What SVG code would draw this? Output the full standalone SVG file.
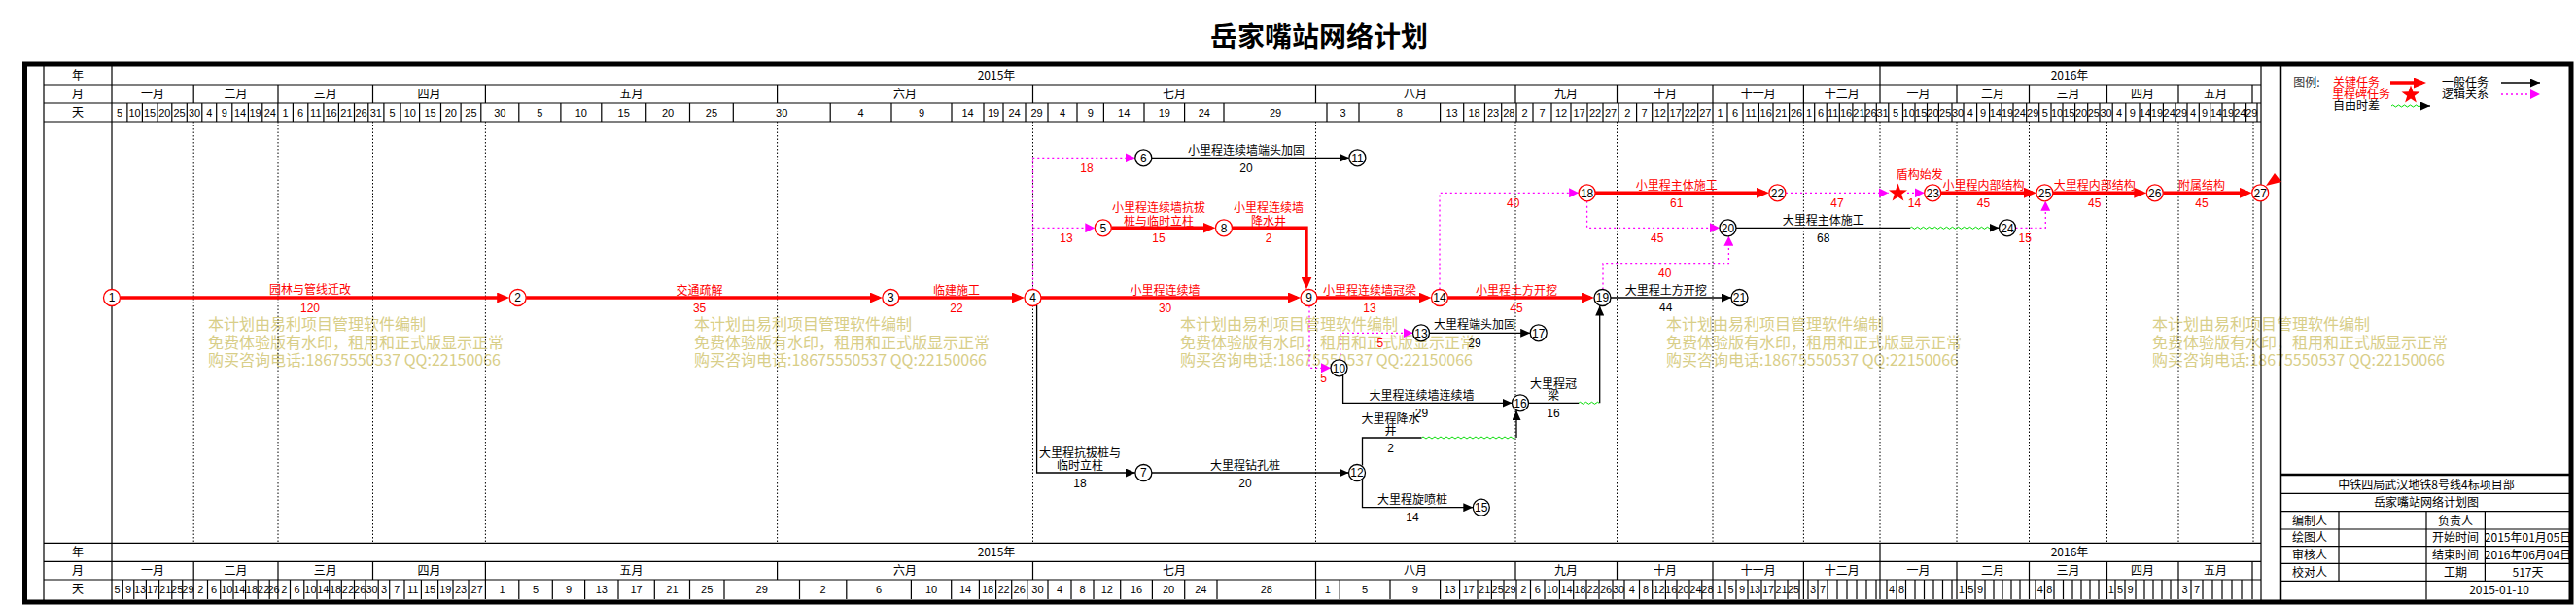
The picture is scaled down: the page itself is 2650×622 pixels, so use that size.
<svg xmlns="http://www.w3.org/2000/svg" width="2650" height="622" viewBox="0 0 2650 622">
<style>
.t{font-family:"Noto Sans CJK SC","Noto Sans",sans-serif;font-size:12px;text-anchor:middle}
.n{font-family:"Liberation Sans Narrow","Liberation Sans",sans-serif;font-size:12px;text-anchor:middle}
.d{font-family:"Liberation Sans Narrow","Liberation Sans",sans-serif;font-size:11px;text-anchor:middle;fill:#000}
.r{fill:#f00}
.k{fill:#000}
.wm{font-family:"Noto Sans CJK SC",sans-serif;font-size:16px;fill:#d8ce88}
.grid{stroke:#000;stroke-width:1.2;fill:none}
.dot{stroke:#000;stroke-width:1;stroke-dasharray:1.5 2;fill:none}
.crit{stroke:#f00;stroke-width:3.4;fill:none}
.norm{stroke:#000;stroke-width:1.3;fill:none}
.logic{stroke:#f0f;stroke-width:1.3;stroke-dasharray:2 3;fill:none}
.wave{stroke:#00dd00;stroke-width:1;fill:none}
.nc circle{fill:#fff;stroke:#f00;stroke-width:1.3}
.nn circle{fill:#fff;stroke:#000;stroke-width:1.3}
</style>
<defs>
<marker id="ar" markerUnits="userSpaceOnUse" markerWidth="13" markerHeight="11" viewBox="0 0 13 11" refX="9" refY="5.5" orient="auto"><path d="M0,0 L13,5.5 L0,11 z" fill="#f00"/></marker>
<marker id="ab" markerUnits="userSpaceOnUse" markerWidth="10" markerHeight="9" viewBox="0 0 10 9" refX="10" refY="4.5" orient="auto"><path d="M0,0 L10,4.5 L0,9 z" fill="#000"/></marker>
<marker id="am" markerUnits="userSpaceOnUse" markerWidth="10" markerHeight="10" viewBox="0 0 10 10" refX="10" refY="5" orient="auto"><path d="M0,0 L10,5 L0,10 z" fill="#f0f"/></marker>
<polygon id="star" points="0,-10 2.35,-3.24 9.51,-3.09 3.8,1.24 5.88,8.09 0,4 -5.88,8.09 -3.8,1.24 -9.51,-3.09 -2.35,-3.24" fill="#f00"/>
</defs>
<rect width="2650" height="622" fill="#fff"/>

<text x="1357" y="48" font-family="Noto Sans CJK SC, sans-serif" font-size="28" font-weight="bold" text-anchor="middle">岳家嘴站网络计划</text>

<g id="watermark">
<text class="wm" x="214" y="339">本计划由易利项目管理软件编制</text><text class="wm" x="214" y="358">免费体验版有水印，租用和正式版显示正常</text><text class="wm" x="214" y="376">购买咨询电话:18675550537 QQ:22150066</text>
<text class="wm" x="714" y="339">本计划由易利项目管理软件编制</text><text class="wm" x="714" y="358">免费体验版有水印，租用和正式版显示正常</text><text class="wm" x="714" y="376">购买咨询电话:18675550537 QQ:22150066</text>
<text class="wm" x="1214" y="339">本计划由易利项目管理软件编制</text><text class="wm" x="1214" y="358">免费体验版有水印，租用和正式版显示正常</text><text class="wm" x="1214" y="376">购买咨询电话:18675550537 QQ:22150066</text>
<text class="wm" x="1714" y="339">本计划由易利项目管理软件编制</text><text class="wm" x="1714" y="358">免费体验版有水印，租用和正式版显示正常</text><text class="wm" x="1714" y="376">购买咨询电话:18675550537 QQ:22150066</text>
<text class="wm" x="2214" y="339">本计划由易利项目管理软件编制</text><text class="wm" x="2214" y="358">免费体验版有水印，租用和正式版显示正常</text><text class="wm" x="2214" y="376">购买咨询电话:18675550537 QQ:22150066</text>
</g>

<g id="timescale">
<path class="dot" d="M199.2,125V558M286,125V558M383.5,125V558M499.4,125V558M799.6,125V558M1062.5,125V558M1353.5,125V558M1559,125V558M1663.5,125V558M1762,125V558M1855.4,125V558M1934,125V558M2013,125V558M2087.5,125V558M2167.5,125V558M2241,125V558M2318,125V558"/>
<path class="grid" stroke-width="1.5" d="M45,68V617M115,68V617M2326,68V617M45,87H2326M45,106H2326M45,125H2326M45,558.3H2326M45,577.3H2326M45,596H2326M1934,68V87M1934,558.3V577.3"/>
<path class="grid" d="M199.2,87V106M286,87V106M383.5,87V106M499.4,87V106M799.6,87V106M1062.5,87V106M1353.5,87V106M1559,87V106M1663.5,87V106M1762,87V106M1855.4,87V106M1934,87V106M2013,87V106M2087.5,87V106M2167.5,87V106M2241,87V106M2317,87V106
M199.2,577.3V596M286,577.3V596M383.5,577.3V596M499.4,577.3V596M799.6,577.3V596M1062.5,577.3V596M1353.5,577.3V596M1559,577.3V596M1663.5,577.3V596M1762,577.3V596M1855.4,577.3V596M1934,577.3V596M2013,577.3V596M2087.5,577.3V596M2167.5,577.3V596M2241,577.3V596M2317,577.3V596"/>
<path class="grid" d="M130.9,106V125M146.4,106V125M161.9,106V125M176.8,106V125M192.3,106V125M207.8,106V125M222.7,106V125M238.8,106V125M255.4,106V125M269.8,106V125M285.9,106V125M301.4,106V125M316.8,106V125M332.9,106V125M348.4,106V125M364.5,106V125M378.8,106V125M394.9,106V125M412.1,106V125M431.6,106V125M453.5,106V125M474.1,106V125M494.8,106V125M533.8,106V125M576.9,106V125M618.8,106V125M664.7,106V125M709.5,106V125M754.3,106V125M854.2,106V125M917,106V125M979,106V125M1012,106V125M1032,106V125M1055,106V125M1078,106V125M1108,106V125M1135.4,106V125M1177,106V125M1218.6,106V125M1259,106V125M1365,106V125M1398,106V125M1481.6,106V125M1505.7,106V125M1527.5,106V125M1544.7,106V125M1560,106V125M1577,106V125M1596,106V125M1616,106V125M1633,106V125M1649,106V125M1665,106V125M1683.6,106V125M1699.7,106V125M1716,106V125M1731,106V125M1746.7,106V125M1762,106V125M1777,106V125M1793,106V125M1809.4,106V125M1824,106V125M1840.6,106V125M1855.4,106V125M1866.7,106V125M1879.2,106V125M1892.3,106V125M1905.9,106V125M1919,106V125M1930.3,106V125M1942.8,106V125M1957.5,106V125M1970,106V125M1982.5,106V125M1994.4,106V125M2008,106V125M2020,106V125M2033.6,106V125M2046.6,106V125M2059,106V125M2071,106V125M2084.7,106V125M2097.7,106V125M2110,106V125M2122,106V125M2134.6,106V125M2147.7,106V125M2160,106V125M2173.2,106V125M2186.8,106V125M2201,106V125M2212.4,106V125M2225.4,106V125M2238,106V125M2250,106V125M2262.3,106V125M2273.7,106V125M2286,106V125M2298,106V125M2310.6,106V125M2322,106V125"/>
<path class="grid" d="M126.3,596V616M137.8,596V616M150.4,596V616M163.6,596V616M176.8,596V616M187.7,596V616M199.2,596V616M213.5,596V616M226.7,596V616M240,596V616M252.6,596V616M265.2,596V616M277.2,596V616M285.9,596V616M298.5,596V616M312.8,596V616M326,596V616M338.7,596V616M351.3,596V616M364.5,596V616M376,596V616M389.2,596V616M400.7,596V616M416,596V616M433.4,596V616M450.6,596V616M466,596V616M482,596V616M499.4,596V616M533.8,596V616M568.3,596V616M601.6,596V616M636,596V616M673.3,596V616M709.5,596V616M745,596V616M822.5,596V616M870.8,596V616M937.4,596V616M978.7,596V616M1007.4,596V616M1024.6,596V616M1040.7,596V616M1056.8,596V616M1078,596V616M1102,596V616M1125,596V616M1152.7,596V616M1185.4,596V616M1218.7,596V616M1252,596V616M1353.6,596V616M1378.2,596V616M1430,596V616M1481.6,596V616M1501.6,596V616M1520,596V616M1534.4,596V616M1547,596V616M1560,596V616M1574.5,596V616M1589,596V616M1604.4,596V616M1618.7,596V616M1632,596V616M1645,596V616M1659,596V616M1671,596V616M1686.5,596V616M1699.7,596V616M1713.4,596V616M1725,596V616M1738,596V616M1750.8,596V616M1762,596V616M1775,596V616M1786,596V616M1798,596V616M1812,596V616M1826,596V616M1839,596V616M1851,596V616M1855.4,596V616M1860,596V616M1870,596V616M1880,596V616M1890,596V616M1900,596V616M1910,596V616M1920,596V616M1930,596V616M1934,596V616M1941,596V616M1951,596V616M1960.5,596V616M1970,596V616M1979.5,596V616M1989,596V616M1998.5,596V616M2008,596V616M2013,596V616M2022.5,596V616M2032,596V616M2042,596V616M2051,596V616M2060,596V616M2069,596V616M2078,596V616M2087.5,596V616M2094,596V616M2103.5,596V616M2113,596V616M2122.5,596V616M2132,596V616M2141,596V616M2150,596V616M2159,596V616M2167.5,596V616M2176,596V616M2186,596V616M2197,596V616M2206,596V616M2215,596V616M2224,596V616M2233,596V616M2241,596V616M2254,596V616M2266,596V616M2276,596V616M2286,596V616M2296,596V616M2306,596V616M2317,596V616"/>
<text class="t" x="80" y="82">年</text><text class="t" x="80" y="101">月</text><text class="t" x="80" y="120">天</text>
<text class="t" x="80" y="572">年</text><text class="t" x="80" y="591">月</text><text class="t" x="80" y="610">天</text>
<text class="t" x="1025" y="82">2015年</text><text class="t" x="2129" y="82">2016年</text>
<text class="t" x="1025" y="572">2015年</text><text class="t" x="2129" y="572">2016年</text>
<text class="t" y="101"><tspan x="157">一月</tspan><tspan x="242.6">二月</tspan><tspan x="334.8">三月</tspan><tspan x="441.5">四月</tspan><tspan x="649.5">五月</tspan><tspan x="931">六月</tspan><tspan x="1208">七月</tspan><tspan x="1456">八月</tspan><tspan x="1611">九月</tspan><tspan x="1713">十月</tspan><tspan x="1808.7">十一月</tspan><tspan x="1894.7">十二月</tspan><tspan x="1973.5">一月</tspan><tspan x="2050">二月</tspan><tspan x="2127.5">三月</tspan><tspan x="2204">四月</tspan><tspan x="2279">五月</tspan></text>
<text class="t" y="591"><tspan x="157">一月</tspan><tspan x="242.6">二月</tspan><tspan x="334.8">三月</tspan><tspan x="441.5">四月</tspan><tspan x="649.5">五月</tspan><tspan x="931">六月</tspan><tspan x="1208">七月</tspan><tspan x="1456">八月</tspan><tspan x="1611">九月</tspan><tspan x="1713">十月</tspan><tspan x="1808.7">十一月</tspan><tspan x="1894.7">十二月</tspan><tspan x="1973.5">一月</tspan><tspan x="2050">二月</tspan><tspan x="2127.5">三月</tspan><tspan x="2204">四月</tspan><tspan x="2279">五月</tspan></text>
<text class="d" y="119.5"><tspan x="123">5</tspan><tspan x="138.6">10</tspan><tspan x="154.1">15</tspan><tspan x="169.3">20</tspan><tspan x="184.5">25</tspan><tspan x="200">30</tspan><tspan x="215.2">4</tspan><tspan x="230.7">9</tspan><tspan x="247.1">14</tspan><tspan x="262.6">19</tspan><tspan x="277.8">24</tspan><tspan x="293.6">1</tspan><tspan x="309.1">6</tspan><tspan x="324.8">11</tspan><tspan x="340.6">16</tspan><tspan x="356.4">21</tspan><tspan x="371.6">26</tspan><tspan x="386.8">31</tspan><tspan x="403.5">5</tspan><tspan x="421.8">10</tspan><tspan x="442.5">15</tspan><tspan x="463.8">20</tspan><tspan x="484.4">25</tspan><tspan x="514.3">30</tspan><tspan x="555.3">5</tspan><tspan x="597.8">10</tspan><tspan x="641.7">15</tspan><tspan x="687.1">20</tspan><tspan x="731.9">25</tspan><tspan x="804.2">30</tspan><tspan x="885.6">4</tspan><tspan x="948">9</tspan><tspan x="995.5">14</tspan><tspan x="1022">19</tspan><tspan x="1043.5">24</tspan><tspan x="1066.5">29</tspan><tspan x="1093">4</tspan><tspan x="1121.7">9</tspan><tspan x="1156.2">14</tspan><tspan x="1197.8">19</tspan><tspan x="1238.8">24</tspan><tspan x="1312">29</tspan><tspan x="1381.5">3</tspan><tspan x="1439.8">8</tspan><tspan x="1493.6">13</tspan><tspan x="1516.6">18</tspan><tspan x="1536.1">23</tspan><tspan x="1552.3">28</tspan><tspan x="1568.5">2</tspan><tspan x="1586.5">7</tspan><tspan x="1606">12</tspan><tspan x="1624.5">17</tspan><tspan x="1641">22</tspan><tspan x="1657">27</tspan><tspan x="1674.3">2</tspan><tspan x="1691.6">7</tspan><tspan x="1707.8">12</tspan><tspan x="1723.5">17</tspan><tspan x="1738.8">22</tspan><tspan x="1754.3">27</tspan><tspan x="1769.5">1</tspan><tspan x="1785">6</tspan><tspan x="1801.2">11</tspan><tspan x="1816.7">16</tspan><tspan x="1832.3">21</tspan><tspan x="1848">26</tspan><tspan x="1861">1</tspan><tspan x="1873">6</tspan><tspan x="1885.7">11</tspan><tspan x="1899.1">16</tspan><tspan x="1912.4">21</tspan><tspan x="1924.6">26</tspan><tspan x="1936.5">31</tspan><tspan x="1950.1">5</tspan><tspan x="1963.7">10</tspan><tspan x="1976.2">15</tspan><tspan x="1988.4">20</tspan><tspan x="2001.2">25</tspan><tspan x="2014">30</tspan><tspan x="2026.8">4</tspan><tspan x="2040.1">9</tspan><tspan x="2052.8">14</tspan><tspan x="2065">19</tspan><tspan x="2077.8">24</tspan><tspan x="2091.2">29</tspan><tspan x="2103.8">5</tspan><tspan x="2116">10</tspan><tspan x="2128.3">15</tspan><tspan x="2141.1">20</tspan><tspan x="2153.8">25</tspan><tspan x="2166.6">30</tspan><tspan x="2180">4</tspan><tspan x="2193.9">9</tspan><tspan x="2206.7">14</tspan><tspan x="2218.9">19</tspan><tspan x="2231.7">24</tspan><tspan x="2244">29</tspan><tspan x="2256.1">4</tspan><tspan x="2268">9</tspan><tspan x="2279.8">14</tspan><tspan x="2292">19</tspan><tspan x="2304.3">24</tspan><tspan x="2316.3">29</tspan></text>
<text class="d" y="609.5"><tspan x="120.5">5</tspan><tspan x="132">9</tspan><tspan x="144.1">13</tspan><tspan x="157">17</tspan><tspan x="170.2">21</tspan><tspan x="182.2">25</tspan><tspan x="193.4">29</tspan><tspan x="206.3">2</tspan><tspan x="220.1">6</tspan><tspan x="233.3">10</tspan><tspan x="246.3">14</tspan><tspan x="258.9">18</tspan><tspan x="271.2">22</tspan><tspan x="281.5">26</tspan><tspan x="292.2">2</tspan><tspan x="305.6">6</tspan><tspan x="319.4">10</tspan><tspan x="332.3">14</tspan><tspan x="345">18</tspan><tspan x="357.9">22</tspan><tspan x="370.2">26</tspan><tspan x="382.6">30</tspan><tspan x="395">3</tspan><tspan x="408.3">7</tspan><tspan x="424.7">11</tspan><tspan x="442">15</tspan><tspan x="458.3">19</tspan><tspan x="474">23</tspan><tspan x="490.7">27</tspan><tspan x="516.6">1</tspan><tspan x="551">5</tspan><tspan x="585">9</tspan><tspan x="618.8">13</tspan><tspan x="654.6">17</tspan><tspan x="691.4">21</tspan><tspan x="727.2">25</tspan><tspan x="783.7">29</tspan><tspan x="846.6">2</tspan><tspan x="904.1">6</tspan><tspan x="958">10</tspan><tspan x="993">14</tspan><tspan x="1016">18</tspan><tspan x="1032.6">22</tspan><tspan x="1048.7">26</tspan><tspan x="1067.4">30</tspan><tspan x="1090">4</tspan><tspan x="1113.5">8</tspan><tspan x="1138.8">12</tspan><tspan x="1169">16</tspan><tspan x="1202">20</tspan><tspan x="1235.3">24</tspan><tspan x="1302.8">28</tspan><tspan x="1365.9">1</tspan><tspan x="1404.1">5</tspan><tspan x="1455.8">9</tspan><tspan x="1491.6">13</tspan><tspan x="1510.8">17</tspan><tspan x="1527.2">21</tspan><tspan x="1540.7">25</tspan><tspan x="1553.5">29</tspan><tspan x="1567.2">2</tspan><tspan x="1581.7">6</tspan><tspan x="1596.7">10</tspan><tspan x="1611.5">14</tspan><tspan x="1625.3">18</tspan><tspan x="1638.5">22</tspan><tspan x="1652">26</tspan><tspan x="1665">30</tspan><tspan x="1678.7">4</tspan><tspan x="1693.1">8</tspan><tspan x="1706.5">12</tspan><tspan x="1719.2">16</tspan><tspan x="1731.5">20</tspan><tspan x="1744.4">24</tspan><tspan x="1756.4">28</tspan><tspan x="1768.5">1</tspan><tspan x="1780.5">5</tspan><tspan x="1792">9</tspan><tspan x="1805">13</tspan><tspan x="1819">17</tspan><tspan x="1832.5">21</tspan><tspan x="1845">25</tspan><tspan x="1865">3</tspan><tspan x="1875">7</tspan><tspan x="1946">4</tspan><tspan x="1956">8</tspan><tspan x="2017.8">1</tspan><tspan x="2027.3">5</tspan><tspan x="2037">9</tspan><tspan x="2098.8">4</tspan><tspan x="2108.3">8</tspan><tspan x="2171.8">1</tspan><tspan x="2181">5</tspan><tspan x="2191.5">9</tspan><tspan x="2247.5">3</tspan><tspan x="2260">7</tspan></text>
</g>

<g id="frame">
<rect x="25.5" y="66" width="2619.5" height="553" fill="none" stroke="#000" stroke-width="5"/>
<path d="M2346,66V619M2346,488H2645" stroke="#000" stroke-width="2.5" fill="none"/>
</g>

<g id="legend">
<text class="t" x="2373" y="89" fill="#333">图例:</text>
<text class="t r" x="2424" y="89">关键任务</text>
<text class="t r" x="2429" y="101">里程碑任务</text>
<text class="t k" x="2424" y="112.5">自由时差</text>
<path class="crit" d="M2459,85H2492" marker-end="url(#ar)"/>
<use href="#star" x="2480" y="97.5"/>
<path class="wave" d="M2460,109 q1.5,-2 3,0 t3,0 t3,0 t3,0 t3,0 t3,0 t3,0 t3,0 t3,0 t3,0"/>
<path class="norm" d="M2490,109H2500" marker-end="url(#ab)"/>
<text class="t k" x="2536" y="89">一般任务</text>
<text class="t k" x="2536" y="101">逻辑关系</text>
<path class="norm" d="M2573,85H2613" marker-end="url(#ab)"/>
<path class="logic" d="M2573,97H2613" marker-end="url(#am)"/>
</g>

<g id="titleblock">
<path class="grid" d="M2346,507.3H2645M2346,525.7H2645M2346,544H2645M2346,561.7H2645M2346,579.3H2645M2346,597.3H2645M2406,525.7V597.3M2496,525.7V616.5M2556.4,525.7V597.3"/>
<text class="t" x="2496" y="502.8">中铁四局武汉地铁8号线4标项目部</text>
<text class="t" x="2496" y="521">岳家嘴站网络计划图</text>
<text class="t" x="2376" y="539.5">编制人</text><text class="t" x="2526" y="539.5">负责人</text>
<text class="t" x="2376" y="557.2">绘图人</text><text class="t" x="2526" y="557.2">开始时间</text><text class="t" x="2600.5" y="557" font-size="11">2015年01月05日</text>
<text class="t" x="2376" y="575">审核人</text><text class="t" x="2526" y="575">结束时间</text><text class="t" x="2600.5" y="574.8" font-size="11">2016年06月04日</text>
<text class="t" x="2376" y="592.8">校对人</text><text class="t" x="2526" y="592.8">工期</text><text class="t" x="2600.5" y="592.8">517天</text>
<text class="t" x="2571" y="610.5">2015-01-10</text>
</g>

<g id="connectors">
<path class="crit" d="M123.5,306H520.2" marker-end="url(#ar)"/>
<path class="crit" d="M541.2,306H903.8" marker-end="url(#ar)"/>
<path class="crit" d="M924.8,306H1050" marker-end="url(#ar)"/>
<path class="crit" d="M1071,306H1334" marker-end="url(#ar)"/>
<path class="crit" d="M1355,306H1468.5" marker-end="url(#ar)"/>
<path class="crit" d="M1489.5,306H1636" marker-end="url(#ar)"/>
<path class="crit" d="M1143.3,234.3H1246.5" marker-end="url(#ar)"/>
<path class="crit" d="M1267.5,234.3H1344V293.5" marker-end="url(#ar)"/>
<path class="crit" d="M1641,198.3H1816" marker-end="url(#ar)"/>
<path class="crit" d="M1996.7,198.3H2091" marker-end="url(#ar)"/>
<path class="crit" d="M2111.9,198.3H2204.3" marker-end="url(#ar)"/>
<path class="crit" d="M2225.3,198.3H2312.7" marker-end="url(#ar)"/>

<path class="norm" d="M1184.8,162.3H1387.9" marker-end="url(#ab)"/>
<path class="norm" d="M1470.5,342.3H1574.2" marker-end="url(#ab)"/>
<path class="norm" d="M1381.6,386H1381.6V414.3H1555.5" marker-end="url(#ab)"/>
<path class="norm" d="M1572.5,414.3H1624"/>
<path class="wave" d="M1624,414.3 q1.5,-2 3,0 t3,0 t3,0 t3,0 t3,0 t3,0 t3,0"/>
<path class="norm" d="M1645.7,414.3V314.5" marker-end="url(#ab)"/>
<path class="norm" d="M1401.5,478.5V450H1462.5"/>
<path class="wave" d="M1462.5,450 q1.5,-2 3,0 t3,0 t3,0 t3,0 t3,0 t3,0 t3,0 t3,0 t3,0 t3,0 t3,0 t3,0 t3,0 t3,0 t3,0 t3,0 t3,0 t3,0 t3,0 t3,0 t3,0 t3,0 t3,0 t3,0 t3,0 t3,0 t3,0 t3,0 t3,0 t3,0 t3,0 t3,0"/>
<path class="norm" d="M1560,450V422" marker-end="url(#ab)"/>
<path class="norm" d="M1066.6,314V486H1167.9" marker-end="url(#ab)"/>
<path class="norm" d="M1184.9,486H1387.5" marker-end="url(#ab)"/>
<path class="norm" d="M1401.5,493.5V521.7H1515.3" marker-end="url(#ab)"/>
<path class="norm" d="M1657,306H1781" marker-end="url(#ab)"/>
<path class="norm" d="M1786,234.3H1965"/>
<path class="wave" d="M1965,234.3 q1.5,-2 3,0 t3,0 t3,0 t3,0 t3,0 t3,0 t3,0 t3,0 t3,0 t3,0 t3,0 t3,0 t3,0 t3,0 t3,0 t3,0 t3,0 t3,0 t3,0 t3,0 t3,0 t3,0 t3,0 t3,0 t3,0 t3,0 t3,0 t3,0"/>
<path class="norm" d="M2048.5,234.3H2056.5" marker-end="url(#ab)"/>

<path class="logic" d="M1062.5,297.5V162.3H1167.8" marker-end="url(#am)"/>
<path class="logic" d="M1062.5,234.3H1126.3" marker-end="url(#am)"/>
<path class="logic" d="M1347,314.5V378.3H1369" marker-end="url(#am)"/>
<path class="logic" d="M1378.7,370V342.3H1453.5" marker-end="url(#am)"/>
<path class="logic" d="M1481,297.5V198.3H1624.1" marker-end="url(#am)"/>
<path class="logic" d="M1632.6,206.8V234.3H1769" marker-end="url(#am)"/>
<path class="logic" d="M1649,297.5V270.7H1778.4V242.8" marker-end="url(#am)"/>
<path class="logic" d="M1837,198.3H1942.7" marker-end="url(#am)"/>
<path class="logic" d="M1962,198.3H1979.7" marker-end="url(#am)"/>
<path class="logic" d="M2073.5,234.3H2104.3V206.8" marker-end="url(#am)"/>

<g class="t r">
<text x="319" y="302.2">园林与管线迁改</text><text class="n" x="319" y="320.5">120</text>
<text x="719.6" y="302.8">交通疏解</text><text class="n" x="719.6" y="320.5">35</text>
<text x="984" y="302.8">临建施工</text><text class="n" x="984" y="320.5">22</text>
<text x="1198.6" y="302.5">小里程连续墙</text><text class="n" x="1198.6" y="320.5">30</text>
<text x="1192" y="217.5">小里程连续墙抗拔</text><text x="1192" y="231.5">桩与临时立柱</text><text class="n" x="1192" y="248.5">15</text>
<text x="1305" y="217.5">小里程连续墙</text><text x="1305" y="231.5">降水井</text><text class="n" x="1305" y="248.5">2</text>
<text x="1409" y="302.5">小里程连续墙冠梁</text><text class="n" x="1409" y="320.5">13</text>
<text x="1560" y="302.5">小里程土方开挖</text><text class="n" x="1560" y="320.5">45</text>
<text x="1724.8" y="194.5">小里程主体施工</text><text class="n" x="1724.8" y="212.5">61</text>
<text x="2040.4" y="194.5">小里程内部结构</text><text class="n" x="2040.4" y="212.5">45</text>
<text x="2154.7" y="194.5">大里程内部结构</text><text class="n" x="2154.7" y="212.5">45</text>
<text x="2265" y="194.5">附属结构</text><text class="n" x="2265" y="212.5">45</text>
<text x="1974.8" y="183.8">盾构始发</text>
<text class="n" x="1118" y="176.5">18</text>
<text class="n" x="1097" y="248.5">13</text>
<text class="n" x="1361.7" y="392.5">5</text>
<text class="n" x="1419.8" y="356.5">5</text>
<text class="n" x="1556.7" y="212.5">40</text>
<text class="n" x="1704.7" y="248.8">45</text>
<text class="n" x="1712.8" y="284.5">40</text>
<text class="n" x="1890" y="212.5">47</text>
<text class="n" x="1969.5" y="212.5">14</text>
<text class="n" x="2083.3" y="248.8">15</text>
</g>
<g class="t k">
<text x="1282" y="158.5">小里程连续墙端头加固</text><text class="n" x="1282" y="176.5">20</text>
<text x="1517" y="337.5">大里程端头加固</text><text class="n" x="1517" y="356.5">29</text>
<text x="1462.5" y="410.5">大里程连续墙连续墙</text><text class="n" x="1462.5" y="428.5">29</text>
<text x="1598" y="398.5">大里程冠</text><text x="1598" y="410.5">梁</text><text class="n" x="1598" y="428.5">16</text>
<text x="1430.5" y="435.2">大里程降水</text><text x="1430.5" y="447.2">井</text><text class="n" x="1430.5" y="464.5">2</text>
<text x="1111" y="470.2">大里程抗拔桩与</text><text x="1111" y="482.8">临时立柱</text><text class="n" x="1111" y="500.5">18</text>
<text x="1281" y="482.5">大里程钻孔桩</text><text class="n" x="1281" y="500.5">20</text>
<text x="1453" y="517.5">大里程旋喷桩</text><text class="n" x="1453" y="536.2">14</text>
<text x="1713.7" y="302.8">大里程土方开挖</text><text class="n" x="1713.7" y="319.5">44</text>
<text x="1875.7" y="231.2">大里程主体施工</text><text class="n" x="1875.7" y="248.8">68</text>
</g>
</g>

<g id="milestone"><use href="#star" x="1952.5" y="198.5"/></g>
<g id="flag"><polygon points="2331,191 2340,178 2347,187" fill="#f00"/></g>

<g id="n1" class="nc"><circle cx="115" cy="306" r="8.5"/><text class="n" x="115" y="310.3">1</text></g>
<g id="n2" class="nc"><circle cx="532.7" cy="306" r="8.5"/><text class="n" x="532.7" y="310.3">2</text></g>
<g id="n3" class="nc"><circle cx="916.3" cy="306" r="8.5"/><text class="n" x="916.3" y="310.3">3</text></g>
<g id="n4" class="nc"><circle cx="1062.5" cy="306" r="8.5"/><text class="n" x="1062.5" y="310.3">4</text></g>
<g id="n5" class="nc"><circle cx="1134.8" cy="234.3" r="8.5"/><text class="n" x="1134.8" y="238.6">5</text></g>
<g id="n6" class="nn"><circle cx="1176.3" cy="162.3" r="8.5"/><text class="n" x="1176.3" y="166.6">6</text></g>
<g id="n7" class="nn"><circle cx="1176.4" cy="486" r="8.5"/><text class="n" x="1176.4" y="490.3">7</text></g>
<g id="n8" class="nc"><circle cx="1259" cy="234.3" r="8.5"/><text class="n" x="1259" y="238.6">8</text></g>
<g id="n9" class="nc"><circle cx="1346.5" cy="306" r="8.5"/><text class="n" x="1346.5" y="310.3">9</text></g>
<g id="n10" class="nn"><circle cx="1377.5" cy="378.3" r="8.5"/><text class="n" x="1377.5" y="382.6">10</text></g>
<g id="n11" class="nn"><circle cx="1396.4" cy="162.3" r="8.5"/><text class="n" x="1396.4" y="166.6">11</text></g>
<g id="n12" class="nn"><circle cx="1396" cy="486" r="8.5"/><text class="n" x="1396" y="490.3">12</text></g>
<g id="n13" class="nn"><circle cx="1462" cy="342.3" r="8.5"/><text class="n" x="1462" y="346.6">13</text></g>
<g id="n14" class="nc"><circle cx="1481" cy="306" r="8.5"/><text class="n" x="1481" y="310.3">14</text></g>
<g id="n15" class="nn"><circle cx="1523.8" cy="521.7" r="8.5"/><text class="n" x="1523.8" y="526">15</text></g>
<g id="n16" class="nn"><circle cx="1564" cy="414.3" r="8.5"/><text class="n" x="1564" y="418.6">16</text></g>
<g id="n17" class="nn"><circle cx="1582.7" cy="342.3" r="8.5"/><text class="n" x="1582.7" y="346.6">17</text></g>
<g id="n18" class="nc"><circle cx="1632.6" cy="198.3" r="8.5"/><text class="n" x="1632.6" y="202.6">18</text></g>
<g id="n19" class="nn"><circle cx="1648.5" cy="306" r="8.5"/><text class="n" x="1648.5" y="310.3">19</text></g>
<g id="n20" class="nn"><circle cx="1777.5" cy="234.3" r="8.5"/><text class="n" x="1777.5" y="238.6">20</text></g>
<g id="n21" class="nn"><circle cx="1789.5" cy="306" r="8.5"/><text class="n" x="1789.5" y="310.3">21</text></g>
<g id="n22" class="nc"><circle cx="1828.4" cy="198.3" r="8.5"/><text class="n" x="1828.4" y="202.6">22</text></g>
<g id="n23" class="nc"><circle cx="1988.2" cy="198.3" r="8.5"/><text class="n" x="1988.2" y="202.6">23</text></g>
<g id="n24" class="nn"><circle cx="2065" cy="234.3" r="8.5"/><text class="n" x="2065" y="238.6">24</text></g>
<g id="n25" class="nc"><circle cx="2103.4" cy="198.3" r="8.5"/><text class="n" x="2103.4" y="202.6">25</text></g>
<g id="n26" class="nc"><circle cx="2216.8" cy="198.3" r="8.5"/><text class="n" x="2216.8" y="202.6">26</text></g>
<g id="n27" class="nc"><circle cx="2325.2" cy="198.3" r="8.5"/><text class="n" x="2325.2" y="202.6">27</text></g>
</svg>
